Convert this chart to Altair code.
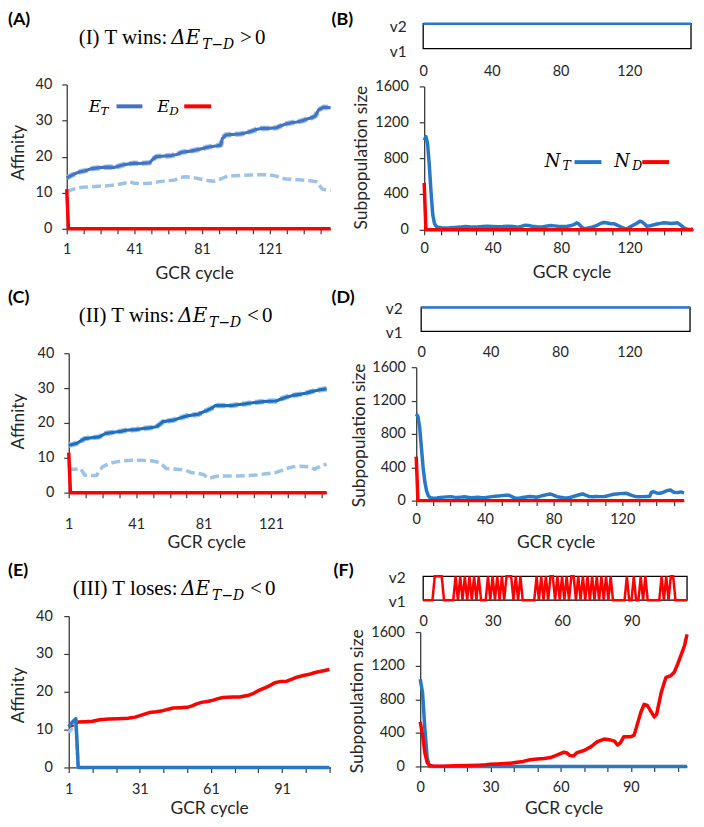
import altair as alt
import pandas as pd

OFF = 8            # page margin of the html page
W, H = 680, 800    # size of the shared drawing canvas (internal px)

# ---------------------------------------------------------------- data
# Panel A  (I) T wins, dE > 0
A_ET_X = [1, 3, 6, 9, 12, 15, 18, 22, 26, 29, 32, 35, 38, 41, 44, 47, 50, 52, 54, 57,
          60, 63, 66, 69, 72, 75, 78, 81, 84, 87, 90, 92, 93, 95, 98, 101, 104, 107, 110, 113,
          116, 119, 122, 125, 128, 131, 134, 137, 140, 143, 146, 148, 150, 153, 157]
A_ET_Y = [14.1, 14.6, 15.3, 15.8, 16.1, 16.6, 16.8, 17.0, 17.1, 17.0, 17.4, 17.8, 18.0, 18.2, 18.1, 18.2, 18.3, 19.3, 20.0, 20.1,
          20.2, 20.3, 20.6, 21.2, 21.4, 21.6, 21.9, 22.2, 22.6, 22.8, 23.0, 23.2, 25.0, 26.0, 26.1, 26.2, 26.3, 26.6, 27.0, 27.5,
          27.8, 27.8, 27.9, 28.0, 28.6, 29.1, 29.4, 29.6, 29.9, 30.4, 30.8, 31.3, 33.0, 33.7, 33.5]
A_LOW_X = [1, 5, 10, 15, 20, 25, 30, 35, 38, 41, 45, 50, 55, 60, 65, 68, 72, 76, 80, 84,
           88, 92, 96, 100, 105, 110, 115, 120, 125, 128, 131, 135, 140, 145, 149, 152, 157]
A_LOW_Y = [10.4, 11.0, 11.5, 11.6, 11.8, 11.9, 12.2, 12.6, 13.1, 12.6, 12.5, 12.6, 13.0, 13.3, 13.5, 14.3, 14.4, 14.2, 13.8, 13.4,
           13.2, 13.8, 14.6, 14.7, 14.8, 14.9, 15.0, 15.0, 14.6, 14.0, 13.8, 13.7, 13.5, 13.3, 13.0, 11.0, 10.6]
A_ED_X = [1, 2, 157]
A_ED_Y = [11.0, 0.0, 0.0]

# Panel B
B_STRIP_X = [0, 156]
B_STRIP = ["v2", "v2"]
B_NT_X = [0, 1, 2, 3, 4, 5, 6, 7, 8, 10, 12, 15, 18, 21, 24, 26, 28, 31, 34, 37,
          40, 43, 46, 49, 52, 55, 57, 59, 61, 63, 66, 69, 72, 74, 76, 78, 80, 83, 86, 88,
          89, 90, 92, 93, 95, 98, 101, 103, 105, 107, 109, 111, 113, 115, 117, 118.5, 120, 122, 124, 126,
          127, 129, 130, 132, 134, 136, 138, 140, 142, 144, 146, 148, 150, 151.7, 153, 155.6, 157]
B_NT_Y = [1000, 1040, 960, 720, 420, 170, 70, 40, 30, 22, 20, 22, 26, 30, 36, 34, 30, 32, 36, 40,
          38, 34, 36, 40, 36, 30, 40, 52, 48, 40, 34, 32, 42, 48, 44, 40, 38, 36, 48, 64,
          78, 70, 30, 15, 18, 30, 50, 70, 82, 75, 68, 67, 50, 30, 15, 11, 30, 50, 70, 96,
          90, 60, 40, 45, 55, 65, 72, 78, 76, 70, 74, 78, 50, 22, 10, 0, 15]
B_ND_X = [0, 1, 157]
B_ND_Y = [523, 0, 0]

# Panel C  (II) T wins, dE < 0
C_ET_X = [1, 3, 5.5, 8, 10.5, 14, 19, 21, 23, 26, 29, 32, 35, 38, 41, 45, 49, 53, 55, 57,
          60, 63, 67, 71, 75, 78, 80, 83, 86, 88, 92, 98, 102, 106, 110, 114, 118, 124, 127, 130,
          134, 138, 142, 145, 148, 151, 154]
C_ET_Y = [13.6, 13.8, 14.1, 14.8, 15.5, 15.7, 16.0, 16.5, 17.0, 17.2, 17.4, 17.6, 17.9, 18.0, 18.1, 18.4, 18.6, 18.9, 19.6, 20.4,
          20.6, 20.8, 21.4, 22.0, 22.3, 22.5, 23.0, 23.6, 24.3, 25.0, 25.0, 25.0, 25.3, 25.5, 25.8, 26.0, 26.2, 26.3, 26.9, 27.4,
          27.9, 28.2, 28.6, 29.0, 29.3, 29.6, 29.8]
C_LOW_X = [1, 5, 8, 10.5, 14, 17.5, 21, 24, 27, 30, 33, 38, 43, 47, 51, 55, 59, 62, 65, 70,
           74, 78, 81, 84, 87, 90, 95, 100, 108, 113, 118, 124, 127, 130, 134, 138, 141, 144, 147, 150, 154]
C_LOW_Y = [6.7, 6.7, 6.9, 5.0, 4.9, 4.9, 7.4, 8.1, 8.6, 8.9, 9.1, 9.3, 9.3, 9.2, 9.1, 8.6, 6.9, 6.8, 6.7, 6.5,
           5.7, 5.5, 5.2, 4.1, 4.5, 4.8, 4.8, 4.8, 4.9, 5.1, 5.4, 5.8, 6.3, 6.9, 7.4, 7.6, 7.5, 7.4, 6.7, 7.6, 8.2]
C_ED_X = [1, 2, 154]
C_ED_Y = [11.5, 0.0, 0.0]

# Panel D
D_STRIP_X = [0, 155]
D_STRIP = ["v2", "v2"]
D_NT_X = [0, 1, 2, 3, 4, 5, 6, 7, 8, 10, 12, 14, 16, 18, 20, 22, 24, 26, 28, 30,
          32, 34, 36, 38, 40, 42, 44, 46, 48, 50, 52, 54, 56, 58, 60, 62, 64, 66, 68, 70,
          72, 74, 76, 78, 80, 82, 84, 86, 88, 90, 92, 94, 96, 97, 99, 101, 103, 105, 107, 109,
          111, 113, 115, 117, 119, 122, 124, 126, 128, 130, 132, 134, 136, 137, 138, 140, 142, 144, 146, 148,
          150, 152, 154, 156]
D_NT_Y = [1040, 1010, 880, 640, 400, 230, 120, 60, 35, 28, 32, 38, 42, 45, 48, 42, 38, 42, 46, 40,
          36, 38, 40, 36, 36, 42, 48, 52, 56, 60, 64, 64, 45, 28, 30, 38, 44, 50, 46, 40,
          50, 62, 72, 80, 66, 48, 40, 34, 32, 40, 52, 64, 76, 80, 64, 48, 46, 50, 48, 48,
          56, 66, 76, 80, 84, 88, 76, 60, 48, 46, 48, 50, 52, 100, 108, 92, 88, 100, 120, 128,
          100, 96, 104, 92]
D_ND_X = [0, 1, 156]
D_ND_Y = [528, 0, 0]

# Panel E  (III) T loses
E_ED_X = [1, 3, 5, 8, 11, 14, 18, 22, 26, 29, 31, 33, 35, 38, 40, 43, 45, 48, 51, 53,
          55, 57, 60, 62, 64, 66, 70, 73, 77, 79, 81, 84, 86, 88, 90, 93, 95, 97, 100, 103,
          105, 108, 111]
E_ED_Y = [10.7, 11.3, 12.0, 12.1, 12.2, 12.6, 12.8, 12.9, 13.0, 13.3, 13.7, 14.1, 14.5, 14.7, 14.9, 15.4, 15.7, 15.8, 15.9, 16.3,
          16.8, 17.2, 17.5, 17.8, 18.2, 18.5, 18.6, 18.6, 19.1, 19.6, 20.3, 21.1, 21.7, 22.4, 22.7, 22.8, 23.3, 23.8, 24.3, 24.7,
          25.1, 25.5, 25.9]
E_ET_X = [1, 2, 3, 4, 5, 111]
E_ET_Y = [10.8, 11.6, 12.3, 12.9, 0.0, 0.0]
E_LOW_X = [1, 2, 3, 4, 5]
E_LOW_Y = [9.2, 10.0, 11.0, 12.2, 0.0]

# Panel F
F_STRIP_X = list(range(0, 115))
F_STRIP = (["v1", "v1", "v1", "v1", "v1", "v2", "v2", "v2", "v2", "v1",
            "v1", "v1", "v1", "v1", "v2", "v1", "v2", "v1", "v2", "v1",
            "v2", "v1", "v2", "v1", "v2", "v1", "v1", "v1", "v2", "v1",
            "v2", "v1", "v2", "v1", "v2", "v1", "v2", "v2", "v2", "v1",
            "v2", "v1", "v2", "v1", "v1", "v1", "v1", "v1", "v1", "v2",
            "v1", "v2", "v1", "v2", "v1", "v2", "v2", "v1", "v2", "v1",
            "v2", "v1", "v2", "v1", "v2", "v2", "v1", "v2", "v1", "v2",
            "v1", "v2", "v1", "v2", "v1", "v2", "v1", "v2", "v1", "v2",
            "v1", "v2", "v1", "v1", "v1", "v1", "v1", "v1", "v2", "v1",
            "v1", "v2", "v1", "v1", "v2", "v1", "v2", "v1", "v1", "v1",
            "v1", "v1", "v1", "v2", "v1", "v2", "v1", "v2", "v2", "v1",
            "v1", "v1", "v1", "v1", "v1"])
F_NT_X = [0, 1, 2, 3, 4, 114]
F_NT_Y = [1040, 880, 450, 100, 0, 0]
F_ND_X = [0, 1, 2, 3, 4, 6, 10, 15, 20, 25, 28, 30, 33, 36, 38.6, 41.4, 44, 47, 50, 53,
          55.7, 58.6, 61.4, 62.5, 64, 65.5, 67, 70, 73, 75.7, 78.6, 81.4, 83, 84.3, 85.5, 87, 90, 91.4, 94.3, 95.7,
          97, 100, 101, 103, 105, 107, 108.5, 110, 112.9, 114]
F_ND_Y = [530, 380, 160, 45, 12, 4, 4, 8, 12, 16, 20, 27, 30, 34, 39, 51, 60, 79, 90, 95,
          106, 138, 170, 165, 130, 125, 165, 190, 236, 295, 326, 314, 302, 255, 280, 354, 354, 373, 648, 740,
          727, 590, 620, 884, 1061, 1080, 1120, 1218, 1435, 1572]

AFF_TICKS = [0, 10, 20, 30, 40]
POP_TICKS = [0, 400, 800, 1200, 1600]

# ---------------------------------------------------------------- style
FONT = "Lato"
SERIF = "Liberation Serif"
MATH = "DejaVu Serif"
TXT = "#262626"
AXC = "#3a3a3a"
RED = "#ff0000"
BLUE = "#2878c8"
BLUE_A = "#4472c4"
BLUE_C = "#1f6fc0"
LIGHT = "#9dc3e6"
TICK_FS = 14.5


def S(dom, rng):
    return alt.Scale(domain=list(dom), range=[r - OFF for r in rng], nice=False, zero=False)


def ax_left(xp, values, pad, title=None, tx=None, ty=None, ticks=True, domain=True,
            label_expr=None, label_offset=0, fs=TICK_FS):
    kw = dict(orient="left", offset=-(xp - OFF), values=values, grid=False, domain=domain,
              domainColor=AXC, domainWidth=1.3, ticks=ticks, labelFont=FONT, labelFontSize=fs,
              labelColor=TXT, labelPadding=pad, labelFlush=False, labelOverlap=False, format="d")
    if ticks:
        kw.update(tickSize=5, tickColor=AXC, tickWidth=1.2)
    if label_expr:
        kw["labelExpr"] = label_expr
    if label_offset:
        kw["labelOffset"] = label_offset
    if title:
        kw.update(title=title, titleFont=FONT, titleFontSize=17.5, titleFontWeight="normal",
                  titleColor=TXT, titleAngle=270, titleAlign="center", titleBaseline="alphabetic",
                  titleX=tx - xp, titleY=ty - OFF)
    else:
        kw["title"] = None
    return alt.Axis(**kw)


def ax_bottom(yp, values, pad, title=None, tx=None, ty=None, ticks=True, domain=True, label_expr=None):
    kw = dict(orient="bottom", offset=(yp - OFF) - H, values=values, grid=False, domain=domain,
              domainColor=AXC, domainWidth=1.3, ticks=ticks, labelFont=FONT, labelFontSize=TICK_FS,
              labelColor=TXT, labelPadding=pad, labelFlush=False, labelOverlap=False, format="d")
    if ticks:
        kw.update(tickSize=5, tickColor=AXC, tickWidth=1.2)
    if label_expr:
        kw["labelExpr"] = label_expr
    if title:
        kw.update(title=title, titleFont=FONT, titleFontSize=17.5, titleFontWeight="normal",
                  titleColor=TXT, titleAngle=0, titleAlign="center", titleBaseline="alphabetic",
                  titleX=tx - OFF, titleY=ty - yp)
    else:
        kw["title"] = None
    return alt.Axis(**kw)


def line(xs, ys, xs_s, ys_s, color, width, dash=None, xaxis=None, yaxis=None):
    df = pd.DataFrame({"x": xs, "y": ys})
    mk = dict(color=color, strokeWidth=width, strokeJoin="round")
    if dash:
        mk["strokeDash"] = dash
    return alt.Chart(df).mark_line(**mk).encode(
        x=alt.X("x:Q", scale=xs_s, axis=xaxis),
        y=alt.Y("y:Q", scale=ys_s, axis=yaxis),
    )


def strip_line(xs, states, xs_s, ys_s, color, width):
    df = pd.DataFrame({"x": xs, "y": [1 if s == "v2" else 0 for s in states]})
    return alt.Chart(df).mark_line(color=color, strokeWidth=width, strokeJoin="miter").encode(
        x=alt.X("x:Q", scale=xs_s, axis=None),
        y=alt.Y("y:Q", scale=ys_s, axis=None),
    )


def strip_box(xdom, xs_s, ys_s, xaxis, yaxis):
    df = pd.DataFrame({"x0": [xdom[0]], "x1": [xdom[1]], "y0": [0], "y1": [1]})
    return alt.Chart(df).mark_rect(fill="#ffffff", fillOpacity=0, stroke="#000000", strokeWidth=1.3).encode(
        x=alt.X("x0:Q", scale=xs_s, axis=xaxis), x2="x1",
        y=alt.Y("y0:Q", scale=ys_s, axis=yaxis), y2="y1",
    )


def txt(s, x, y, size, font=FONT, style="normal", weight="normal", color="#000000", align="left"):
    return alt.Chart(pd.DataFrame({"t": [s]})).mark_text(
        font=font, fontSize=size, fontStyle=style, fontWeight=weight, color=color,
        align=align, baseline="alphabetic").encode(
        x=alt.value(x - OFF), y=alt.value(y - OFF), text="t:N")


def seg(x1, x2, y, color, width):
    return alt.Chart(pd.DataFrame({"a": [0]})).mark_rule(color=color, strokeWidth=width).encode(
        x=alt.value(x1 - OFF), x2=alt.value(x2 - OFF), y=alt.value(y - OFF))


def heading(prefix, rel, x0, base):
    # "(I) T wins: ΔE_{T−D} > 0" built from pieces
    w1 = {"(I) T wins:": 90, "(II) T wins:": 97, "(III) T loses:": 106}[prefix]
    xd = x0 + w1 + 3
    return [
        txt(prefix, x0, base, 21, font=SERIF),
        txt("ΔE", xd, base, 20, font=MATH, style="italic"),
        txt("T−D", xd + 31, base + 5, 14, font=MATH, style="italic"),
        txt(rel, xd + 69, base, 21, font=SERIF),
        txt("0", xd + 84, base, 21, font=SERIF),
    ]


def every(step, start):
    return f"(datum.value - {start}) % {step} == 0 ? datum.label : ''"


STRIP_LAB = "datum.value == 1 ? 'v2' : 'v1'"
layers = []

# ------------------------------------------------------------- panel A
xA, yA = S([1, 157], [67, 332]), S([0, 40], [228, 83])
layers += [
    line(A_LOW_X, A_LOW_Y, xA, yA, LIGHT, 3.5, dash=[9, 4],
         xaxis=ax_bottom(228, list(range(1, 158, 10)), 9, "GCR cycle", 195, 278, label_expr=every(40, 1)),
         yaxis=ax_left(67, AFF_TICKS, 10, "Affinity", 24, 151)),
    line(A_ET_X, A_ET_Y, xA, yA, LIGHT, 5.5, dash=[9, 4]),
    line(A_ET_X, A_ET_Y, xA, yA, BLUE_A, 3.2),
    line(A_ED_X, A_ED_Y, xA, yA, RED, 3.5),
    txt("E", 89, 111, 17, font=MATH, style="italic"),
    txt("T", 101, 114, 12, font=MATH, style="italic"),
    seg(117, 143, 105, BLUE_A, 4),
    txt("E", 158, 111, 17, font=MATH, style="italic"),
    txt("D", 170, 114, 12, font=MATH, style="italic"),
    seg(185, 212, 105, RED, 4),
]
layers += heading("(I) T wins:", ">", 79, 42)

# ------------------------------------------------------------- panel B
xBs, yBs = S([0, 156], [425, 694]), S([0, 1], [47, 22])
xB, yB = S([0, 157], [426, 696]), S([0, 1600], [229, 85])
layers += [
    strip_box([0, 156], xBs, yBs,
              ax_bottom(47, [0, 40, 80, 120], 16, ticks=False, domain=False),
              ax_left(425, [0, 1], 17, ticks=False, domain=False,
                      label_expr=STRIP_LAB, label_offset=3, fs=15.5)),
    strip_line(B_STRIP_X, B_STRIP, xBs, yBs, BLUE, 2.5),
    line(B_NT_X, B_NT_Y, xB, yB, BLUE, 3.5,
         xaxis=ax_bottom(229, list(range(0, 158, 10)), 7, "GCR cycle", 574, 277, label_expr=every(40, 0)),
         yaxis=ax_left(426, POP_TICKS, 11, "Subpopulation size", 368, 156)),
    line(B_ND_X, B_ND_Y, xB, yB, RED, 3.5),
    txt("N", 547, 166, 18, font=MATH, style="italic"),
    txt("T", 565, 169, 12.5, font=MATH, style="italic"),
    seg(577, 604, 161, BLUE, 4),
    txt("N", 617, 166, 18, font=MATH, style="italic"),
    txt("D", 635, 169, 12.5, font=MATH, style="italic"),
    seg(645, 672, 161, RED, 4),
]

# ------------------------------------------------------------- panel C
xC, yC = S([1, 154], [69, 328]), S([0, 40], [493, 353])
layers += [
    line(C_LOW_X, C_LOW_Y, xC, yC, LIGHT, 3.5, dash=[9, 4],
         xaxis=ax_bottom(493, list(range(1, 155, 10)), 20.5, "GCR cycle", 207, 548, label_expr=every(40, 1)),
         yaxis=ax_left(69, AFF_TICKS, 10, "Affinity", 24, 421)),
    line(C_ET_X, C_ET_Y, xC, yC, LIGHT, 5.5, dash=[9, 4]),
    line(C_ET_X, C_ET_Y, xC, yC, BLUE_C, 3.2),
    line(C_ED_X, C_ED_Y, xC, yC, RED, 3.5),
]
layers += heading("(II) T wins:", "<", 79, 322)

# ------------------------------------------------------------- panel D
xDs, yDs = S([0, 155], [423, 693]), S([0, 1], [331, 307])
xD, yD = S([0, 156], [418, 687]), S([0, 1600], [501, 367])
layers += [
    strip_box([0, 155], xDs, yDs,
              ax_bottom(331, [0, 40, 80, 120], 14, ticks=False, domain=False),
              ax_left(423, [0, 1], 19, ticks=False, domain=False,
                      label_expr=STRIP_LAB, label_offset=1, fs=15.5)),
    strip_line(D_STRIP_X, D_STRIP, xDs, yDs, BLUE, 2.5),
    line(D_NT_X, D_NT_Y, xD, yD, BLUE, 3.5,
         xaxis=ax_bottom(501, list(range(0, 157, 10)), 6.5, "GCR cycle", 558, 548, label_expr=every(40, 0)),
         yaxis=ax_left(418, POP_TICKS, 6, "Subpopulation size", 366, 435)),
    line(D_ND_X, D_ND_Y, xD, yD, RED, 3.5),
]

# ------------------------------------------------------------- panel E
xE, yE = S([1, 111.5], [69, 332]), S([0, 40], [769, 617])
layers += [
    line(E_ED_X, E_ED_Y, xE, yE, RED, 3.5,
         xaxis=ax_bottom(769, list(range(1, 112, 10)), 10, "GCR cycle", 210, 815, label_expr=every(30, 1)),
         yaxis=ax_left(69, AFF_TICKS, 11.5, "Affinity", 24, 696)),
    line(E_LOW_X, E_LOW_Y, xE, yE, LIGHT, 3.5, dash=[6, 3]),
    line(E_ET_X, E_ET_Y, xE, yE, BLUE, 3.5),
]
layers += heading("(III) T loses:", "<", 73, 596)

# ------------------------------------------------------------- panel F
xFs, yFs = S([0, 114], [425, 690]), S([0, 1], [601, 577])
xF, yF = S([0, 114], [422, 690]), S([0, 1600], [768, 633])
layers += [
    strip_box([0, 114], xFs, yFs,
              ax_bottom(601, [0, 30, 60, 90], 14.5, ticks=False, domain=False),
              ax_left(425, [0, 1], 18, ticks=False, domain=False,
                      label_expr=STRIP_LAB, label_offset=1, fs=15.5)),
    strip_line(F_STRIP_X, F_STRIP, xFs, yFs, RED, 2.5),
    line(F_NT_X, F_NT_Y, xF, yF, BLUE, 3.5,
         xaxis=ax_bottom(768, list(range(0, 115, 10)), 9, "GCR cycle", 566, 815, label_expr=every(30, 0)),
         yaxis=ax_left(422, POP_TICKS, 11, "Subpopulation size", 364, 702)),
    line(F_ND_X, F_ND_Y, xF, yF, RED, 3.5),
]

# ------------------------------------------------------------- panel letters
for lab, x, y in [("(A)", 8, 23), ("(B)", 333, 23), ("(C)", 8, 303),
                  ("(D)", 333, 303), ("(E)", 8, 577), ("(F)", 335, 577)]:
    layers.append(txt(lab, x, y, 18, weight="bold"))

chart = (
    alt.layer(*layers)
    .resolve_scale(x="independent", y="independent")
    .properties(width=W, height=H, padding=0, background="white")
    .configure_view(stroke=None)
)

chart.save("out.html", embed_options={"renderer": "svg", "actions": False})
